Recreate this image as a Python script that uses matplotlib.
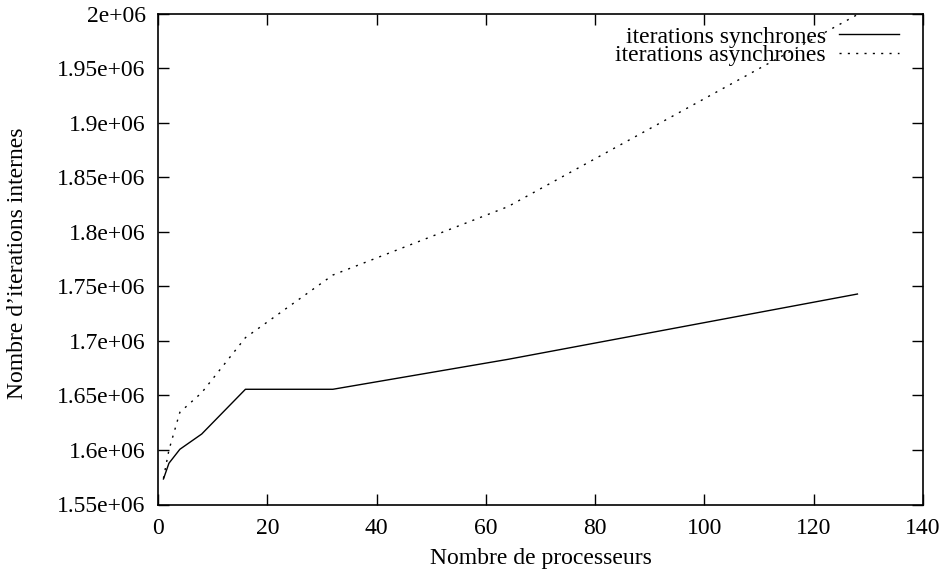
import matplotlib
matplotlib.use("Agg")
import matplotlib.pyplot as plt

# Data
processeurs = [1, 2, 4, 8, 16, 32, 64, 128]
iter_sync = [1.5734e6, 1.5878e6, 1.6006e6, 1.6146e6, 1.6556e6, 1.6556e6, 1.6830e6, 1.7429e6]
iter_async = [1.5740e6, 1.5999e6, 1.6345e6, 1.6525e6, 1.7029e6, 1.7603e6, 1.8229e6, 1.9990e6]
series_names = ["iterations synchrones", "iterations asynchrones"]

xticks = [0, 20, 40, 60, 80, 100, 120, 140]
yticks = [1.55e6, 1.6e6, 1.65e6, 1.7e6, 1.75e6, 1.8e6, 1.85e6, 1.9e6, 1.95e6, 2.0e6]
ytick_labels = ["1.55e+06", "1.6e+06", "1.65e+06", "1.7e+06", "1.75e+06",
                "1.8e+06", "1.85e+06", "1.9e+06", "1.95e+06", "2e+06"]

plt.rcParams['font.family'] = ['Liberation Serif', 'DejaVu Serif']
FS = 17

W, H = 945, 572
fig = plt.figure(figsize=(W / 100, H / 100), dpi=100)
L, R, T, B = 158, 923, 13.5, 504.5
ax = fig.add_axes([L / W, 1 - B / H, (R - L) / W, (B - T) / H])

solid_style = dict(color='black', lw=1.0, linestyle='-')
dot_style = dict(color='black', lw=1.0, linestyle=(0, (1.5, 4.5)))

ax.plot(processeurs, iter_sync, **solid_style)
ax.plot(processeurs, iter_async, **dot_style)

ax.set_xlim(0, 140)
ax.set_ylim(1.55e6, 2.0e6)
ax.set_xticks(xticks)
ax.set_xticklabels([str(v) for v in xticks], fontsize=FS)
ax.set_yticks(yticks)
ax.set_yticklabels(ytick_labels, fontsize=FS)
ax.tick_params(direction='in', length=8, width=1, top=True, right=True, color='black')
ax.tick_params(axis='x', pad=10)
ax.tick_params(axis='y', pad=9)
for s in ax.spines.values():
    s.set_linewidth(1.2)

# Legend (gnuplot style: text right-aligned, sample line on the right)
tx = (826 - L) / (R - L)
lx0, lx1 = (839 - L) / (R - L), (899 - L) / (R - L)
rows = [(43.5, 34.3, solid_style), (61.0, 53.3, dot_style)]
for name, (tb, ly, st) in zip(series_names, rows):
    ax.text(tx, (B - tb) / (B - T), name, transform=ax.transAxes, ha='right',
            va='baseline', fontsize=FS)
    yy = (B - ly) / (B - T)
    ax.plot([lx0, lx1], [yy, yy], transform=ax.transAxes, **st)

fig.text(540.5 / W, 1 - 564 / H, "Nombre de processeurs", ha='center', va='baseline', fontsize=FS)
fig.text(18 / W, 1 - 263 / H, "Nombre d\u2019iterations internes", ha='center', va='center',
         rotation=90, fontsize=FS)

fig.savefig("out.png", dpi=100)
